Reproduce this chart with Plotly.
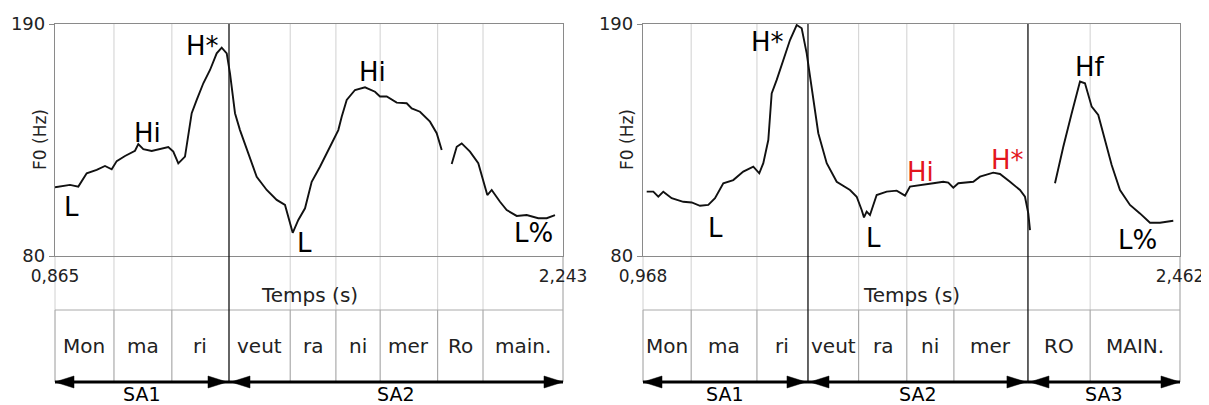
import plotly.graph_objects as go

# page offset (browser body margin) compensation
OFF = 8
W, H = 1209 - OFF, 405 - OFF
FONT = "DejaVu Sans"

# ---------------- data: left utterance ----------------
left_range = [0.865, 2.243]
left_tick_text = ["0,865", "2,243"]
left_t = [0.865, 0.9057, 0.9282, 0.9510, 0.9781, 1.0006, 1.0188, 1.0324, 1.0549, 1.0820,
          1.0910, 1.1045, 1.1273, 1.1498, 1.1723, 1.1859, 1.1995, 1.2176, 1.2358, 1.2494,
          1.2673, 1.2855, 1.3036, 1.3172, 1.3308, 1.3397, 1.3533, 1.3668, 1.3893, 1.4121,
          1.4393, 1.4664, 1.4889, 1.4979, 1.5098, 1.5250, 1.5432, 1.5613, 1.5838, 1.6110,
          1.6335, 1.6427, 1.6563, 1.6788, 1.7059, 1.7330, 1.7466, 1.7648, 1.7919, 1.8190,
          1.8326, 1.8551, 1.8822, 1.9004, 1.9140, None, 1.9411, 1.9547, 1.9682, 1.9907,
          2.0132, 2.0268, 2.0377, 2.0496, 2.0721, 2.0903, 2.1174, 2.1445, 2.1760, 2.1988,
          2.2213]
left_f0 = [112.6, 113.7, 112.9, 119.2, 120.8, 122.7, 121.1, 125.0, 127.4, 129.9,
           133.1, 130.7, 129.8, 130.7, 131.7, 129.5, 123.9, 127.1, 147.7, 154.0,
           161.9, 168.2, 176.1, 178.8, 176.1, 166.6, 147.7, 139.7, 128.7, 117.6,
           111.3, 106.6, 104.2, 98.6, 91.0, 97.1, 102.6, 115.2, 122.3, 131.8,
           139.7, 146.0, 154.0, 158.7, 160.0, 157.9, 155.6, 155.6, 152.7, 152.4,
           150.0, 148.4, 143.7, 138.2, 130.3, None, 123.6, 131.8, 133.4, 129.5,
           124.0, 116.0, 108.9, 111.3, 105.7, 101.8, 99.0, 99.4, 97.9, 97.9,
           99.4]
left_syl_bounds = [0.865, 1.025, 1.182, 1.337, 1.503, 1.627, 1.747, 1.903, 2.026, 2.243]
left_syllables = ["Mon", "ma", "ri", "veut", "ra", "ni", "mer", "Ro", "main."]
left_sa_bounds = [0.865, 1.337, 2.243]
left_sa_labels = ["SA1", "SA2"]
left_tones = ["L", "Hi", "H*", "L", "Hi", "L%"]
left_tone_t = [0.911, 1.115, 1.266, 1.543, 1.725, 2.162]
left_tone_hz = [103.2, 138.3, 179.6, 86.2, 167.2, 90.9]
left_tone_color = ["black"] * 6

# ---------------- data: right utterance ----------------
right_range = [0.968, 2.462]
right_tick_text = ["0,968", "2,462"]
right_t = [0.9783, 0.9967, 1.0106, 1.0245, 1.0478, 1.0801, 1.1035, 1.1266, 1.1497, 1.1683,
           1.1914, 1.2192, 1.2470, 1.2749, 1.2915, 1.3027, 1.3166, 1.3260, 1.3400, 1.3583,
           1.3770, 1.3956, 1.4095, 1.4234, 1.4373, 1.4557, 1.4791, 1.5069, 1.5439, 1.5625,
           1.5764, 1.5828, 1.5903, 1.5995, 1.6181, 1.6460, 1.6738, 1.6969, 1.7108, 1.7386,
           1.7756, 1.8034, 1.8173, 1.8313, 1.8452, 1.8869, 1.9056, 1.9425, 1.9612, 1.9890,
           2.0168, 2.0307, 2.0399, 2.0447, None, 2.1142, 2.1373, 2.1607, 2.1838, 2.1976,
           2.2163, 2.2346, 2.2533, 2.2719, 2.2950, 2.3228, 2.3506, 2.3785, 2.4063, 2.4433]
right_f0 = [110.5, 110.5, 108.1, 110.5, 107.4, 105.7, 105.4, 103.8, 104.2, 107.4,
            114.5, 116.0, 120.0, 122.4, 119.2, 124.0, 135.0, 157.1, 163.5, 172.9,
            182.4, 189.5, 188.0, 176.1, 158.7, 138.2, 124.0, 115.2, 111.3, 108.1,
            101.8, 98.3, 101.0, 99.4, 108.9, 110.5, 111.0, 108.6, 112.9, 113.7,
            114.5, 115.2, 114.8, 112.4, 114.5, 115.2, 117.6, 119.5, 118.9, 115.2,
            111.3, 108.1, 100.2, 92.3, None, 114.5, 131.8, 147.7, 162.7, 161.9,
            150.8, 146.9, 135.0, 123.1, 111.3, 104.2, 100.2, 95.8, 95.8, 96.7]
right_syl_bounds = [0.968, 1.102, 1.285, 1.427, 1.568, 1.702, 1.833, 2.039, 2.212, 2.462]
right_syllables = ["Mon", "ma", "ri", "veut", "ra", "ni", "mer", "RO", "MAIN."]
right_sa_bounds = [0.968, 1.427, 2.039, 2.462]
right_sa_labels = ["SA1", "SA2", "SA3"]
right_tones = ["H*", "L", "L", "Hi", "H*", "Hf", "L%"]
right_tone_t = [1.313, 1.171, 1.608, 1.739, 1.981, 2.212, 2.345]
right_tone_hz = [181.5, 93.3, 88.5, 119.8, 125.5, 169.6, 87.6]
right_tone_color = ["black", "black", "black", "#e3161d", "#e3161d", "black", "black"]

f0_range = [80, 190]
f0_ticks = [80, 190]

# ---------------- layout geometry (window pixels) ----------------
PLOT_TOP, PLOT_BOT = 24, 256
TABLE_TOP, TABLE_BOT = 310, 382
SYL_Y, SA_Y, TEMPS_Y = 346, 394, 295
panels = [
    dict(xa="x", ya="y", px=(55, 563), ylab_x=40, t=left_t, f=left_f0, rng=left_range,
         ticktext=left_tick_text, bounds=left_syl_bounds, syl=left_syllables,
         sa=left_sa_bounds, sal=left_sa_labels, tones=left_tones, tt=left_tone_t,
         th=left_tone_hz, tc=left_tone_color),
    dict(xa="x2", ya="y2", px=(643, 1180), ylab_x=627, t=right_t, f=right_f0, rng=right_range,
         ticktext=right_tick_text, bounds=right_syl_bounds, syl=right_syllables,
         sa=right_sa_bounds, sal=right_sa_labels, tones=right_tones, tt=right_tone_t,
         th=right_tone_hz, tc=right_tone_color),
]


def pxx(x):
    return (x - OFF) / W


def pyy(y):
    return 1 - (y - OFF) / H


fig = go.Figure()
shapes, annots = [], []
GRID = "#d0d0d0"
CELL = "#9a9a9a"
FRAME = "#8a8a8a"

for i, p in enumerate(panels):
    xa, ya = p["xa"], p["ya"]
    fig.add_trace(go.Scatter(x=p["t"], y=p["f"], xaxis=xa, yaxis=ya, mode="lines",
                             line=dict(color="#111111", width=1.9), connectgaps=False,
                             showlegend=False, hoverinfo="skip"))
    axsuffix = "" if i == 0 else "2"
    fig.update_layout(**{
        "xaxis" + axsuffix: dict(domain=[pxx(p["px"][0]), pxx(p["px"][1])], range=p["rng"],
                                 anchor=ya, showgrid=False, zeroline=False, automargin=False,
                                 showline=True, mirror=True, linecolor=FRAME, linewidth=1.3,
                                 tickvals=p["rng"], ticktext=p["ticktext"], ticks="",
                                 ticklabelstandoff=4,
                                 tickfont=dict(family=FONT, size=17, color="#222")),
        "yaxis" + axsuffix: dict(domain=[pyy(PLOT_BOT), pyy(PLOT_TOP)], range=f0_range,
                                 anchor=xa, showgrid=False, zeroline=False, automargin=False,
                                 showline=True, mirror=True, linecolor=FRAME, linewidth=1.3,
                                 tickvals=f0_ticks, ticktext=[str(v) for v in f0_ticks],
                                 ticks="outside", ticklen=5, tickcolor=FRAME,
                                 tickfont=dict(family=FONT, size=18, color="#222")),
    })
    dom = xa + " domain"
    b = p["bounds"]
    sa = p["sa"]
    # internal syllable boundaries
    for t in b[1:-1]:
        if t in sa:
            continue
        shapes.append(dict(type="line", xref=xa, yref="paper", x0=t, x1=t,
                           y0=pyy(PLOT_TOP), y1=pyy(TABLE_TOP), layer="below",
                           line=dict(color=GRID, width=1)))
        shapes.append(dict(type="line", xref=xa, yref="paper", x0=t, x1=t,
                           y0=pyy(TABLE_TOP), y1=pyy(TABLE_BOT), layer="below",
                           line=dict(color=CELL, width=1)))
    # panel edges below plot into table
    for xd in (0, 1):
        shapes.append(dict(type="line", xref=dom, yref="paper", x0=xd, x1=xd,
                           y0=pyy(PLOT_BOT), y1=pyy(TABLE_TOP), layer="below",
                           line=dict(color=GRID if xd == 0 else CELL, width=1)))
        shapes.append(dict(type="line", xref=dom, yref="paper", x0=xd, x1=xd,
                           y0=pyy(TABLE_TOP), y1=pyy(TABLE_BOT), layer="below",
                           line=dict(color=CELL, width=1)))
    # table top border
    shapes.append(dict(type="line", xref=dom, yref="paper", x0=0, x1=1,
                       y0=pyy(TABLE_TOP), y1=pyy(TABLE_TOP), layer="below",
                       line=dict(color="#aaaaaa", width=1)))
    # SA boundaries (black)
    for t in sa[1:-1]:
        shapes.append(dict(type="line", xref=xa, yref="paper", x0=t, x1=t,
                           y0=pyy(PLOT_TOP), y1=pyy(TABLE_BOT), layer="above",
                           line=dict(color="#111111", width=1.3)))
    # SA arrows
    for k in range(len(sa) - 1):
        t0, t1 = sa[k], sa[k + 1]
        shapes.append(dict(type="line", xref=xa, yref="paper", x0=t0, x1=t1,
                           y0=pyy(TABLE_BOT), y1=pyy(TABLE_BOT), layer="above",
                           line=dict(color="#000", width=3)))
        for tip, sgn in ((t0, 1), (t1, -1)):
            outer = (sgn == 1 and k == 0) or (sgn == -1 and k == len(sa) - 2)
            gap = 0 if outer else 2 * sgn
            shapes.append(dict(type="path", xref=xa, yref="paper",
                               xsizemode="pixel", xanchor=tip,
                               ysizemode="pixel", yanchor=pyy(TABLE_BOT),
                               path="M%g,0L%g,6L%g,-6Z" % (gap, gap + 19 * sgn, gap + 19 * sgn),
                               fillcolor="#000", line=dict(color="#000", width=0.5),
                               layer="above"))
        annots.append(dict(x=(t0 + t1) / 2, y=pyy(SA_Y), xref=xa, yref="paper",
                           xanchor="center", yanchor="middle",
                           text=p["sal"][k], showarrow=False,
                           font=dict(family=FONT, size=19, color="#000")))
    # syllable labels
    for k, s in enumerate(p["syl"]):
        annots.append(dict(x=(b[k] + b[k + 1]) / 2, y=pyy(SYL_Y), xref=xa, yref="paper",
                           xanchor="center", yanchor="middle",
                           text=s, showarrow=False,
                           font=dict(family=FONT, size=20, color="#222")))
    # Temps (s)
    annots.append(dict(x=0.5, y=pyy(TEMPS_Y), xref=dom, yref="paper", text="Temps (s)",
                       xanchor="center", yanchor="middle",
                       showarrow=False, font=dict(family=FONT, size=20, color="#222")))
    # F0 (Hz)
    annots.append(dict(x=pxx(p["ylab_x"]), y=pyy(140), xref="paper", yref="paper",
                       xanchor="center", yanchor="middle",
                       text="F0 (Hz)", textangle=-90, showarrow=False,
                       font=dict(family=FONT, size=17, color="#222")))
    # tone labels
    for s, t, hz, c in zip(p["tones"], p["tt"], p["th"], p["tc"]):
        annots.append(dict(x=t, y=hz, xref=xa, yref=ya, text=s, showarrow=False,
                           xanchor="center", yanchor="middle",
                           font=dict(family=FONT, size=26, color=c)))

fig.update_layout(width=W, height=H,
                  margin=dict(l=0, r=0, t=0, b=0, pad=0, autoexpand=False),
                  paper_bgcolor="white", plot_bgcolor="rgba(0,0,0,0)",
                  shapes=shapes, annotations=annots, showlegend=False)

fig.write_html("out.html")
